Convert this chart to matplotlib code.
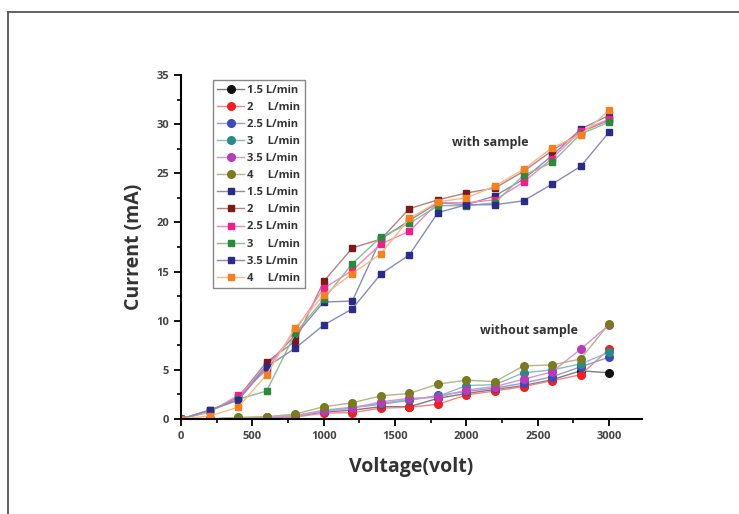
import numpy as np
import matplotlib
matplotlib.use("Agg")
from matplotlib import pyplot as plt
from matplotlib.lines import Line2D
from matplotlib.ticker import MultipleLocator
from matplotlib.colors import to_rgb

plt.rcParams['font.family'] = ['Open Sans', 'DejaVu Sans']

voltage = [0, 200, 400, 600, 800, 1000, 1200, 1400, 1600, 1800, 2000, 2200, 2400, 2600, 2800, 3000]

flow_labels = ["1.5 L/min", "2     L/min", "2.5 L/min", "3     L/min", "3.5 L/min", "4     L/min"]

# without sample (circles)
wo_15 = [0, 0, 0.1, 0.15, 0.3, 0.7, 0.9, 1.25, 1.25, 2.1, 2.6, 3.0, 3.4, 4.0, 4.9, 4.7]
wo_2 = [0, 0, 0.05, 0.1, 0.2, 0.6, 0.65, 1.1, 1.2, 1.5, 2.45, 2.85, 3.3, 3.9, 4.5, 7.1]
wo_25 = [0, 0, 0.1, 0.15, 0.3, 0.8, 1.15, 1.5, 1.9, 2.4, 2.8, 3.15, 3.65, 4.3, 5.3, 6.3]
wo_3 = [0, 0, 0.1, 0.2, 0.35, 0.9, 1.2, 1.6, 2.0, 2.3, 3.4, 3.5, 4.7, 5.0, 5.6, 6.8]
wo_35 = [0, 0, 0.1, 0.2, 0.35, 0.8, 1.1, 1.75, 2.1, 2.2, 2.95, 3.3, 4.05, 4.8, 7.1, 9.6]
wo_4 = [0, 0, 0.17, 0.23, 0.5, 1.25, 1.65, 2.35, 2.6, 3.55, 3.95, 3.8, 5.4, 5.5, 6.1, 9.7]

# with sample (squares)
w_15 = [0, 0.9, 2.0, 5.5, 8.5, 11.9, 12.0, 18.3, 20.2, 22.0, 21.8, 22.7, 24.4, 26.8, 29.5, 30.9]
w_2 = [0, 0.8, 2.2, 5.8, 7.9, 14.0, 17.4, 18.3, 21.4, 22.3, 23.0, 23.5, 25.2, 27.3, 29.2, 30.4]
w_25 = [0, 0.7, 2.4, 5.0, 9.0, 13.3, 15.1, 17.8, 19.1, 22.0, 22.0, 22.3, 24.1, 26.5, 29.3, 30.5]
w_3 = [0, 0.8, 2.0, 2.85, 8.7, 12.2, 15.8, 18.5, 19.9, 21.7, 21.7, 22.0, 24.8, 26.1, 29.0, 30.2]
w_35 = [0, 0.9, 1.9, 5.3, 7.2, 9.56, 11.2, 14.75, 16.7, 21.0, 21.8, 21.8, 22.2, 23.9, 25.7, 29.2]
w_4 = [0, 0.3, 1.2, 4.5, 9.3, 12.6, 14.8, 16.8, 20.4, 22.1, 22.5, 23.7, 25.4, 27.6, 28.9, 31.4]

wo_series = [wo_15, wo_2, wo_25, wo_3, wo_35, wo_4]
w_series = [w_15, w_2, w_25, w_3, w_35, w_4]
wo_colors = ["#111111", "#f02020", "#3a4cb8", "#2a8a8a", "#b83cb8", "#7a7a22"]
w_colors = ["#2b2b80", "#7a1a1a", "#f0208a", "#2a8a3a", "#2b2b88", "#f58020"]


def lighter(c, f=0.45):
    r = np.array(to_rgb(c))
    return tuple(r + (1 - r) * f)


fig = plt.figure(figsize=(7.39, 5.14), dpi=100, facecolor="w")
ax = fig.add_axes([181/739, 1-419/514, (642-181)/739, (419-75)/514])

for y, c, lab in zip(wo_series, wo_colors, flow_labels):
    ax.plot(voltage, y, "-", color=lighter(c), lw=1.0, marker="o", ms=5.5,
            mfc=c, mec=c, label=lab)
for y, c, lab in zip(w_series, w_colors, flow_labels):
    ax.plot(voltage, y, "-", color=lighter(c), lw=1.0, marker="s", ms=5,
            mfc=c, mec=c, label=lab)

ax.set_xlim(0, 3230)
ax.set_ylim(0, 35)
ax.spines["top"].set_visible(False)
ax.spines["right"].set_visible(False)
ax.spines["left"].set_linewidth(1.5)
ax.spines["bottom"].set_linewidth(1.5)
ax.xaxis.set_major_locator(MultipleLocator(500))
ax.xaxis.set_minor_locator(MultipleLocator(250))
ax.yaxis.set_major_locator(MultipleLocator(5))
ax.yaxis.set_minor_locator(MultipleLocator(2.5))
ax.tick_params(which="major", length=5, width=1.3, labelsize=8, labelcolor="#444444")
ax.tick_params(which="minor", length=3, width=1.2)
for t in ax.get_xticklabels() + ax.get_yticklabels():
    t.set_fontweight("bold")

ax.set_xlabel("Voltage(volt)", fontsize=14, fontweight="bold", color="#333333", labelpad=11)
ax.set_ylabel("Current (mA)", fontsize=14, fontweight="bold", color="#333333", labelpad=9)

ax.text(2165, 28.1, "with sample", fontsize=9, fontweight="bold", color="#333333", ha="center", va="center")
ax.text(2440, 9.05, "without sample", fontsize=9, fontweight="bold", color="#333333", ha="center", va="center")

leg = ax.legend(loc="upper left", bbox_to_anchor=(0.069, 0.985), borderaxespad=0,
                fontsize=8, labelspacing=0.55, handlelength=2.4, handletextpad=0.3,
                borderpad=0.4, fancybox=False, edgecolor="#888888", framealpha=1)
for t in leg.get_texts():
    t.set_fontweight("bold")
    t.set_color("#333333")

# page frame
fig.add_artist(Line2D([8/739, 8/739], [0, 1-12/514], color="#555555", lw=1.3))
fig.add_artist(Line2D([8/739, 1], [1-12/514, 1-12/514], color="#555555", lw=1.3))

plt.savefig("out.png", dpi=100)
